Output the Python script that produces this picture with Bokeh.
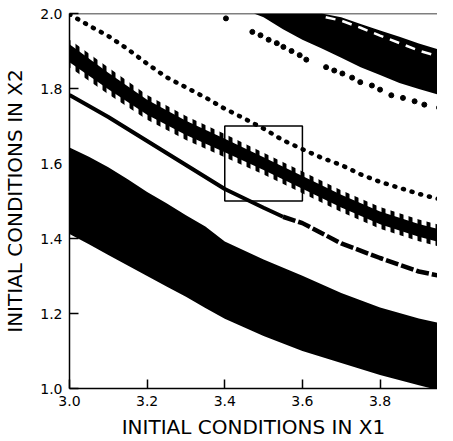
from bokeh.plotting import figure
from bokeh.models import Range1d, FixedTicker, PrintfTickFormatter, Span
from bokeh.embed import file_html
from bokeh.resources import INLINE

# ---------------- data ----------------
x_ticks = [3.0, 3.2, 3.4, 3.6, 3.8]
y_ticks = [1.0, 1.2, 1.4, 1.6, 1.8, 2.0]

# Basin A: wide lower black band
a_x = [3.0, 3.05, 3.1, 3.15, 3.2, 3.25, 3.3, 3.35, 3.4, 3.5, 3.6, 3.7, 3.8, 3.9, 3.97]
a_upper = [1.643, 1.618, 1.590, 1.558, 1.524, 1.494, 1.462, 1.432, 1.392, 1.344, 1.301, 1.255, 1.216, 1.187, 1.171]
a_lower = [1.412, 1.385, 1.356, 1.328, 1.300, 1.272, 1.245, 1.215, 1.186, 1.140, 1.100, 1.068, 1.036, 1.009, 0.990]

# Basin B: thin line below the middle band
b_x = [3.0, 3.1, 3.2, 3.3, 3.4, 3.5, 3.55, 3.6, 3.7, 3.8, 3.9, 3.97]
b_y = [1.783, 1.724, 1.660, 1.596, 1.532, 1.482, 1.458, 1.441, 1.387, 1.348, 1.312, 1.297]

# Basin C: sawtooth middle band (solid core, and outer reach of the teeth)
c_x = [3.0, 3.1, 3.2, 3.3, 3.4, 3.5, 3.6, 3.7, 3.8, 3.9, 3.97]
c_upper = [1.918, 1.842, 1.770, 1.714, 1.666, 1.617, 1.567, 1.517, 1.472, 1.439, 1.420]
c_lower = [1.870, 1.798, 1.730, 1.676, 1.630, 1.583, 1.533, 1.483, 1.438, 1.405, 1.386]
c_teeth_upper = [1.931, 1.856, 1.783, 1.727, 1.679, 1.629, 1.579, 1.529, 1.484, 1.451, 1.432]
c_teeth_lower = [1.857, 1.785, 1.717, 1.663, 1.617, 1.571, 1.521, 1.471, 1.426, 1.393, 1.374]

# Basin D: dotted curve above the middle band
d_x = [3.0, 3.05, 3.1, 3.15, 3.2, 3.25, 3.3, 3.35, 3.4, 3.45, 3.5, 3.55, 3.6, 3.65, 3.7, 3.75, 3.8, 3.85, 3.9, 3.96]
d_y = [1.998, 1.968, 1.940, 1.905, 1.866, 1.830, 1.803, 1.776, 1.746, 1.720, 1.693, 1.662, 1.638, 1.615, 1.596, 1.571, 1.551, 1.535, 1.519, 1.503]

# Basin E: upper row of dots
e_x = [3.403, 3.471, 3.492, 3.513, 3.534, 3.551, 3.572, 3.593, 3.610, 3.661, 3.682, 3.703, 3.728, 3.749,
       3.779, 3.800, 3.829, 3.859, 3.889, 3.914, 3.952]
e_y = [1.987, 1.951, 1.942, 1.930, 1.921, 1.911, 1.900, 1.889, 1.877, 1.857, 1.848, 1.840, 1.829, 1.817,
       1.808, 1.797, 1.782, 1.775, 1.766, 1.757, 1.749]

# Basin F: upper-right black band, with white streaks near its top edge
f_x = [3.475, 3.5, 3.55, 3.6, 3.65, 3.7, 3.75, 3.8, 3.85, 3.9, 3.97]
f_lower = [2.0, 1.990, 1.958, 1.930, 1.907, 1.882, 1.857, 1.836, 1.815, 1.799, 1.778]
f_upper = [2.0, 2.0, 2.0, 2.0, 2.0, 1.990, 1.972, 1.955, 1.938, 1.920, 1.898]
f_gap_x = [3.66, 3.7, 3.75, 3.8, 3.85, 3.9, 3.97]
f_gap_y = [1.990, 1.981, 1.962, 1.941, 1.921, 1.901, 1.880]

# Enlarged region box
box_x = [3.4, 3.6]
box_y = [1.5, 1.7]

# ---------------- figure ----------------
FONT = "DejaVu Sans"
p = figure(width=437, height=441,
           x_range=Range1d(3.0, 3.948), y_range=Range1d(1.0, 2.0),
           output_backend="svg", toolbar_location=None,
           min_border_left=63, min_border_top=13, min_border_bottom=53, min_border_right=0)
p.grid.visible = False
p.outline_line_color = None
p.background_fill_color = "white"
p.border_fill_color = "white"

p.varea(x=a_x, y1=a_lower, y2=a_upper, fill_color="black")
p.varea(x=f_x, y1=f_lower, y2=f_upper, fill_color="black")
p.line(f_gap_x, f_gap_y, line_color="white", line_width=2.5, line_dash="10 7")
p.varea(x=c_x, y1=c_teeth_lower, y2=c_teeth_upper, fill_color=None,
        hatch_pattern="vertical_line", hatch_color="black", hatch_scale=9, hatch_weight=4)
p.varea(x=c_x, y1=c_lower, y2=c_upper, fill_color="black")

split = b_x.index(3.55)
p.line(b_x[:split + 1], b_y[:split + 1], line_color="black", line_width=4)
p.line(b_x[split:], b_y[split:], line_color="black", line_width=4.5, line_dash="13 3")

p.line(d_x, d_y, line_color="black", line_width=4.5, line_dash="1 8", line_cap="round")
p.scatter(e_x, e_y, size=5, color="black")

p.quad(left=box_x[0], right=box_x[1], bottom=box_y[0], top=box_y[1],
       fill_color=None, line_color="black", line_width=1.5)

p.add_layout(Span(location=2.0, dimension="width", line_color="black", line_width=1.5))

for ax in (p.xaxis[0], p.yaxis[0]):
    ax.major_tick_in = 9
    ax.major_tick_out = 0
    ax.minor_tick_line_color = None
    ax.axis_line_width = 1.5
    ax.major_tick_line_width = 1.5
    ax.major_label_text_font = FONT
    ax.major_label_text_font_size = "14px"
    ax.major_label_text_color = "black"
    ax.axis_label_text_font = FONT
    ax.axis_label_text_font_size = "20px"
    ax.axis_label_text_font_style = "normal"
    ax.axis_label_text_color = "black"
    ax.formatter = PrintfTickFormatter(format="%.1f")

p.xaxis.ticker = FixedTicker(ticks=x_ticks)
p.yaxis.ticker = FixedTicker(ticks=y_ticks)
p.xaxis.axis_label = "INITIAL CONDITIONS IN X1"
p.yaxis.axis_label = "INITIAL CONDITIONS IN X2"
p.xaxis.major_label_standoff = 7
p.xaxis.axis_label_standoff = 6
p.yaxis.major_label_standoff = 7
p.yaxis.axis_label_standoff = 10

open("out.html", "w").write(file_html(p, INLINE))
